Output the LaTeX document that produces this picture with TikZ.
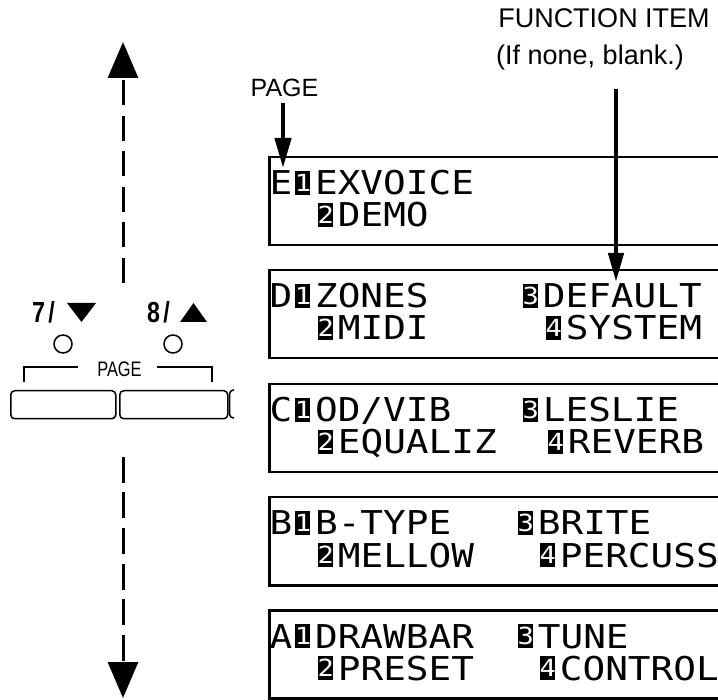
\documentclass[tikz,border=0pt]{standalone}
\usepackage{fontspec}
\setmainfont{Liberation Sans}
\newfontfamily\lcdfont{DejaVu Sans Mono}
\usetikzlibrary{arrows.meta}
\newcommand\invd[1]{\makebox[0.602em][l]{\hspace{0.08em}\rlap{\rule[-0.01em]{0.4em}{0.74em}}\makebox[0.4em]{\raisebox{0.1em}{\scalebox{0.72}{\color{white}#1}}}}}
\newcommand\lcdt[1]{\scalebox{1}[0.87]{#1}}
\begin{document}
\begin{tikzpicture}[x=1pt,y=-1pt,
  lcdbox/.style={draw,line width=2.5pt,minimum width=472pt,minimum height=88pt,anchor=north west,inner sep=0pt},
  lcdtext/.style={anchor=base west,inner sep=0pt,font=\lcdfont\fontsize{37.7pt}{40pt}\selectfont},
  biglabel/.style={anchor=base,inner sep=3pt,font=\fontsize{27pt}{30pt}\selectfont},
  condlabel/.style={anchor=base west,inner sep=0pt},
  fatarrow/.style={line width=4.5pt,-{Triangle[length=30pt,width=16pt]}},
  dashline/.style={line width=3pt,-{Triangle[length=36pt,width=30pt]}},
  button/.style={draw,line width=1.5pt,rounded corners=4pt,minimum height=28pt,anchor=north west,inner sep=0pt},
  lamp/.style={draw,line width=1.5pt,circle,minimum size=18pt,inner sep=0pt},
  thinline/.style={line width=1.5pt}]
\useasboundingbox (0,0) rectangle (718,700);
\clip (0,0) rectangle (718,700);

% ---------- LCD screens ----------
\node[lcdbox] (boxE) at (268,156) {};
\node[lcdbox] (boxD) at (268,269) {};
\node[lcdbox] (boxC) at (268,383) {};
\node[lcdbox] (boxB) at (268,496) {};
\node[lcdbox] (boxA) at (268,609) {};

% E
\node[lcdtext] (e1) at (269.5,195) {\lcdt{E\invd{1}EXVOICE}};
\node[lcdtext] (e2) at (315,227) {\lcdt{\invd{2}DEMO}};
% D
\node[lcdtext] (d1) at (269.5,308) {\lcdt{D\invd{1}ZONES}};
\node[lcdtext] (d3) at (520,308) {\lcdt{\invd{3}DEFAULT}};
\node[lcdtext] (d2) at (315,340) {\lcdt{\invd{2}MIDI}};
\node[lcdtext] (d4) at (543,340) {\lcdt{\invd{4}SYSTEM}};
% C
\node[lcdtext] (c1) at (269.5,422) {\lcdt{C\invd{1}OD/VIB}};
\node[lcdtext] (c3) at (520,422) {\lcdt{\invd{3}LESLIE}};
\node[lcdtext] (c2) at (315,454) {\lcdt{\invd{2}EQUALIZ}};
\node[lcdtext] (c4) at (545,454) {\lcdt{\invd{4}REVERB}};
% B
\node[lcdtext] (b1) at (269.5,535) {\lcdt{B\invd{1}B-TYPE}};
\node[lcdtext] (b3) at (515,535) {\lcdt{\invd{3}BRITE}};
\node[lcdtext] (b2) at (315,567) {\lcdt{\invd{2}MELLOW}};
\node[lcdtext] (b4) at (537,567) {\lcdt{\invd{4}PERCUSS}};
% A
\node[lcdtext] (a1) at (269.5,648) {\lcdt{A\invd{1}DRAWBAR}};
\node[lcdtext] (a3) at (515,648) {\lcdt{\invd{3}TUNE}};
\node[lcdtext] (a2) at (315,680) {\lcdt{\invd{2}PRESET}};
\node[lcdtext] (a4) at (537,680) {\lcdt{\invd{4}CONTROL}};

% ---------- top labels and arrows ----------
\node[biglabel,font=\fontsize{25pt}{28pt}\selectfont] (pagelbl) at (284.5,97) {PAGE};
\node[biglabel] (fnlbl) at (604,28) {FUNCTION ITEM};
\node[biglabel] (fnlbl2) at (590,65) {(If none, blank.)};
\coordinate (pagetip) at (283,168);
\coordinate (fntip) at (616,282);
\draw[fatarrow] ([yshift=-3pt]pagelbl.south -| pagetip) -- (pagetip);
\draw[fatarrow,-{Triangle[length=29pt,width=15pt]}] ([yshift=-15pt]fnlbl2.south -| fntip) -- (fntip);

% ---------- page buttons ----------
\coordinate (upstart) at (123,283);
\coordinate (uptip) at (123,42);
\coordinate (dnstart) at (123,457);
\coordinate (dntip) at (123,698);
\draw[dashline,dash pattern=on 25pt off 10.5pt] (upstart) -- (uptip);
\draw[dashline,dash pattern=on 26pt off 9.5pt] (dnstart) -- (dntip);

\node[condlabel] (lbl7) at (32,323) {\scalebox{0.8}[1]{\bfseries\fontsize{29pt}{31pt}\selectfont 7\kern4pt/}};
\node[condlabel] (lbl8) at (147,323) {\scalebox{0.8}[1]{\bfseries\fontsize{29pt}{31pt}\selectfont 8\kern4pt/}};
\fill (67,303) -- (96,303) -- (81.5,322) -- cycle;
\fill (180,322) -- (207,322) -- (193.5,303) -- cycle;

\node[lamp] (lamp7) at (63,344) {};
\node[lamp] (lamp8) at (173,344) {};

\node[anchor=base,inner sep=0pt] (pagebr) at (119.5,377) {\scalebox{0.78}[1]{\fontsize{21pt}{24pt}\selectfont PAGE}};
\draw[thinline] (24,382) -- (24,367) -- (78,367);
\draw[thinline] (157,367) -- (212,367) -- (212,382);

\node[button,minimum width=105pt] (btn7) at (10,390) {};
\node[button,minimum width=108pt] (btn8) at (119,390) {};
\draw[thinline] (234,390) -- (233.5,390) arc[start angle=90,end angle=180,radius=4pt] -- (229.5,414) arc[start angle=180,end angle=270,radius=4pt] -- (234,418);
\end{tikzpicture}
\end{document}
